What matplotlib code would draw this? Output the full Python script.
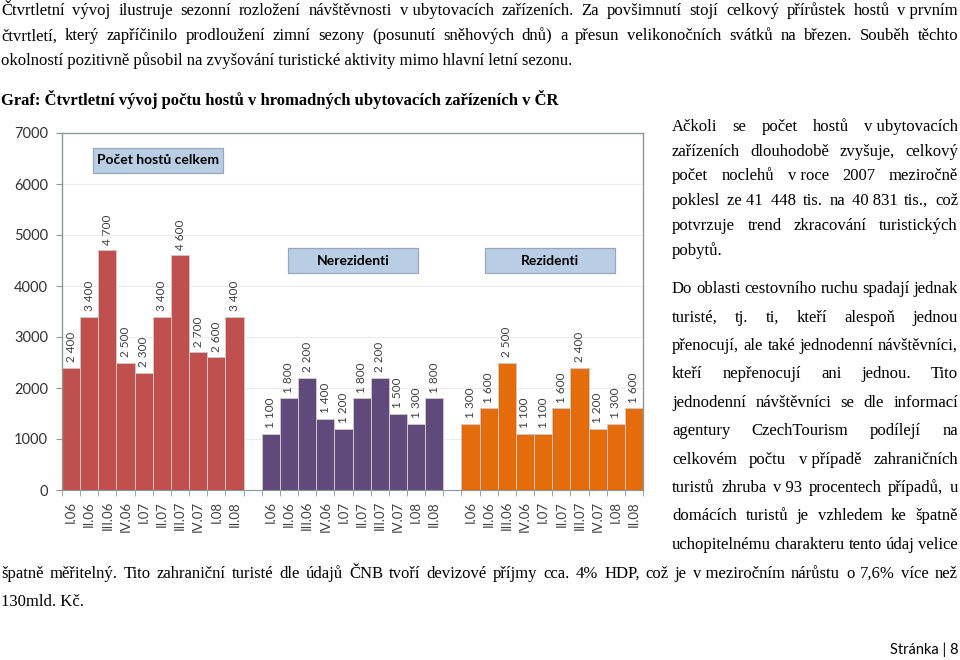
import matplotlib
matplotlib.use("Agg")
import matplotlib.pyplot as plt
from matplotlib.patches import Rectangle

# --- data -------------------------------------------------------------
quarters = ["I.06", "II.06", "III.06", "IV.06", "I.07", "II.07",
            "III.07", "IV.07", "I.08", "II.08"]
guests_total = [2400, 3400, 4700, 2500, 2300, 3400, 4600, 2700, 2600, 3400]
guests_nonres = [1100, 1800, 2200, 1400, 1200, 1800, 2200, 1500, 1300, 1800]
guests_res = [1300, 1600, 2500, 1100, 1100, 1600, 2400, 1200, 1300, 1600]
group_names = ["Počet hostů celkem", "Nerezidenti", "Rezidenti"]
group_colors = ["#c0504d", "#604a7b", "#e46c0a"]

W, H = 960, 660
SERIF = "Liberation Serif"
SANS = "Lato"
FS = 12

fig = plt.figure(figsize=(W / 100, H / 100), dpi=100)
renderer = fig.canvas.get_renderer()


def px(x):
    return x / W


def py(y):
    return 1 - y / H


def line(text, x, ybase, size=FS, weight="normal", ha="left", family=SERIF):
    fig.text(px(x), py(ybase), text, fontsize=size, fontweight=weight,
             family=family, ha=ha, va="baseline", color="black")


def justify(text, x0, x1, ybase, size=FS):
    words = text.split(" ")
    items = [fig.text(0, py(ybase), w, fontsize=size, family=SERIF,
                      va="baseline", color="black") for w in words]
    widths = [t.get_window_extent(renderer).width for t in items]
    gap = (x1 - x0 - sum(widths)) / max(len(words) - 1, 1)
    x = x0
    for t, w in zip(items, widths):
        t.set_x(px(x))
        x += w + gap


NB = "\u00a0"

# --- page text ----------------------------------------------------------
justify("Čtvrtletní vývoj ilustruje sezonní rozložení návštěvnosti v" + NB +
        "ubytovacích zařízeních. Za povšimnutí stojí celkový přírůstek hostů v" + NB + "prvním",
        1, 958, 15)
justify("čtvrtletí, který zapříčinilo prodloužení zimní sezony (posunutí sněhových dnů) "
        "a přesun velikonočních svátků na březen. Souběh těchto", 1, 958, 40.5)
line("okolností pozitivně působil na zvyšování turistické aktivity mimo hlavní letní sezonu.",
     1, 65)
line("Graf: Čtvrtletní vývoj počtu hostů v hromadných ubytovacích zařízeních v ČR",
     1, 105, weight="bold")

col1 = ["Ačkoli se počet hostů v" + NB + "ubytovacích",
        "zařízeních dlouhodobě zvyšuje, celkový",
        "počet noclehů v" + NB + "roce 2007 meziročně",
        "poklesl ze" + NB + "41" + NB + NB + "448 tis. na 40" + NB + "831 tis., což",
        "potvrzuje trend zkracování turistických"]
for i, t in enumerate(col1):
    justify(t, 672, 958, 130.7 + i * 24.8)
line("pobytů.", 672, 130.7 + 5 * 24.8)

col2 = ["Do oblasti cestovního ruchu spadají jednak",
        "turisté, tj. ti, kteří alespoň jednou",
        "přenocují, ale také jednodenní návštěvníci,",
        "kteří nepřenocují ani jednou. Tito",
        "jednodenní návštěvníci se dle informací",
        "agentury CzechTourism podílejí na",
        "celkovém počtu v" + NB + "případě zahraničních",
        "turistů zhruba v" + NB + "93 procentech případů, u",
        "domácích turistů je vzhledem ke špatně",
        "uchopitelnému charakteru tento údaj velice"]
for i, t in enumerate(col2):
    justify(t, 672, 958, 293.3 + i * 28.4)

justify("špatně měřitelný. Tito zahraniční turisté dle údajů ČNB tvoří devizové příjmy cca. "
        "4% HDP, což je v" + NB + "meziročním nárůstu o 7,6% více než", 1, 958, 578)
line("130mld. Kč.", 1, 606)
line("Stránka | 8", 958, 654, size=10.5, ha="right", family=SANS)

# --- chart ------------------------------------------------------------
ax = fig.add_axes([px(62), py(490), px(643) - px(62), (490 - 133) / H])

series = [guests_total, guests_nonres, guests_res]
centers, labels = [], []
for g, (vals, col) in enumerate(zip(series, group_colors)):
    xs = [g * 11 + i for i in range(len(vals))]
    ax.bar(xs, vals, width=1.0, color=col, edgecolor="#cfc6c6", linewidth=0.7, zorder=2)
    for x, v in zip(xs, vals):
        ax.annotate(f"{v:,}".replace(",", " "), (x, v), xytext=(0, 4),
                    textcoords="offset points", rotation=90, ha="center", va="bottom",
                    fontsize=8.5, family=SANS, color="#404040")
    centers += xs
    labels += quarters

ax.set_xlim(-0.5, 31.5)
ax.set_ylim(0, 7000)
ax.set_yticks(range(0, 7001, 1000))
ax.set_xticks(centers)
ax.set_xticklabels(labels, rotation=90, fontsize=9.5, family=SANS, color="#404040")
ax.set_xticks([i - 0.5 for i in range(33)], minor=True)
ax.tick_params(axis="x", which="major", length=0, pad=8)
ax.tick_params(axis="x", which="minor", length=4, color="#8c9898", direction="out")
ax.tick_params(axis="y", length=4, color="#8c9898", labelsize=10.5, labelcolor="#333333",
               pad=6)
for lab in ax.get_yticklabels():
    lab.set_family(SANS)
ax.grid(axis="y", color="#ececec", linewidth=0.8, zorder=0)
ax.set_axisbelow(True)
for side in ["left", "top", "right"]:
    ax.spines[side].set_color("#8c9a9a")
    ax.spines[side].set_linewidth(1.0)
ax.spines["bottom"].set_color("#8c9898")

# group caption boxes
boxes = [(93, 223, 148, 173), (288, 418, 248, 273), (485, 615, 248, 273)]
for name, (x0, x1, y0, y1) in zip(group_names, boxes):
    fig.patches.append(Rectangle((px(x0), py(y1)), px(x1) - px(x0), (y1 - y0) / H,
                                 transform=fig.transFigure, facecolor="#b9cde5",
                                 edgecolor="#98a8b8", linewidth=0.9, zorder=5))
    fig.text(px((x0 + x1) / 2), py((y0 + y1) / 2), name, fontsize=10, fontweight="bold",
             family=SANS, ha="center", va="center", color="black", zorder=6)

fig.savefig("out.png", dpi=100)
